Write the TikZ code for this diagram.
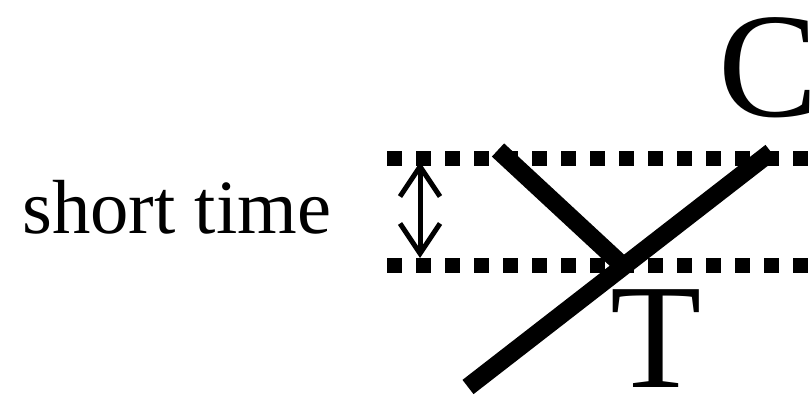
\documentclass[tikz,border=0pt]{standalone}
\usepackage{fontspec}
\setmainfont{Liberation Serif}
\usetikzlibrary{arrows.meta}

\begin{document}
\begin{tikzpicture}[
  x=1bp, y=-1bp,
  every node/.style={inner sep=0pt},
  biglabel/.style={font=\fontsize{150}{150}\selectfont},
  textlabel/.style={font=\fontsize{77}{80}\selectfont},
  dotrule/.style={line width=15bp, dash pattern=on 15bp off 14bp},
  stroke/.style={line width=18bp},
  span/.style={{Straight Barb[length=30bp,width=40bp]}-{Straight Barb[length=30bp,width=40bp]},
               line width=5bp},
]
  \useasboundingbox (0,0) rectangle (812,397);

  % Labels
  \node[textlabel, anchor=base west] (time) at (22,233) {short time};
  \node[biglabel, anchor=base west] (cLabel) at (718,116) {C};
  \node[biglabel, anchor=base west] (tLabel) at (610,387) {T};

  % Dotted guide lines
  \coordinate (topL) at (387,158);
  \coordinate (topR) at (830,158);
  \coordinate (botL) at (387,265);
  \coordinate (botR) at (830,265);
  \draw[dotrule] (topL) -- (topR);
  \draw[dotrule] (botL) -- (botR);

  % Interval arrow
  \coordinate (spanTop) at (420,162);
  \coordinate (spanBot) at (420,258);
  \draw[span] (spanTop) -- (spanBot);

  % Crossing strokes
  \coordinate (shortEnd) at (498,150);
  \coordinate (meet) at (621,264);
  \coordinate (longLow) at (468,387);
  \coordinate (longHigh) at (771,152);
  \draw[stroke] (shortEnd) -- (meet);
  \draw[stroke] (longLow) -- (longHigh);
\end{tikzpicture}
\end{document}
